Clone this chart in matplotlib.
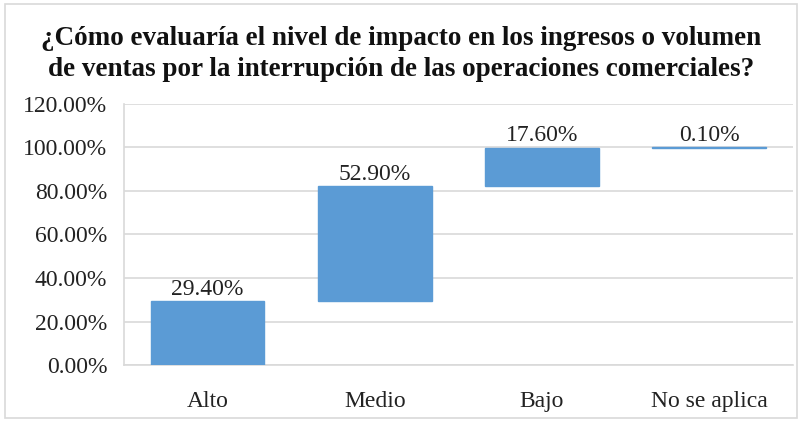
import matplotlib.pyplot as plt
from matplotlib.patches import Rectangle
from matplotlib.ticker import FuncFormatter

# datos del gráfico (cascada)
categorias = ["Alto", "Medio", "Bajo", "No se aplica"]
valores = [29.40, 52.90, 17.60, 0.10]
titulo = ("¿Cómo evaluaría el nivel de impacto en los ingresos o volumen\n"
          "de ventas por la interrupción de las operaciones comerciales?")

plt.rcParams["font.family"] = ["Liberation Serif", "DejaVu Serif"]

fig = plt.figure(figsize=(8.02, 4.21), dpi=100)
ax = fig.add_axes([0.1546, 0.133, 0.834, 0.62])

# base de cada barra = suma acumulada de las anteriores
bases = []
acumulado = 0
for v in valores:
    bases.append(acumulado)
    acumulado += v

x = range(len(categorias))
# el borde del mismo color hace visible la barra de 0.10%
ax.bar(x, valores, bottom=bases, width=0.68, color="#5B9BD5",
       edgecolor="#5B9BD5", linewidth=1.0, zorder=3)

for i, (b, v) in enumerate(zip(bases, valores)):
    ax.text(i, b + v + 0.6, f"{v:.2f}%", ha="center", va="bottom",
            fontsize=17, color="#222222", zorder=4)

ax.set_ylim(0, 120)
ax.set_xlim(-0.5, len(categorias) - 0.5)
ax.set_yticks(range(0, 121, 20))
ax.yaxis.set_major_formatter(FuncFormatter(lambda y, _: f"{y:.2f}%"))
ax.set_xticks(list(x))
ax.set_xticklabels(categorias)
ax.tick_params(axis="both", length=0, labelsize=17, colors="#222222")
ax.tick_params(axis="x", pad=19)
ax.tick_params(axis="y", pad=12)

ax.grid(axis="y", color="#d9d9d9", linewidth=1.2, zorder=0)
for lado in ["top", "right"]:
    ax.spines[lado].set_visible(False)
for lado in ["left", "bottom"]:
    ax.spines[lado].set_color("#d9d9d9")
    ax.spines[lado].set_linewidth(1.2)

fig.text(0.5, 0.871, titulo, ha="center", va="center", fontsize=19.5,
         fontweight="bold", linespacing=1.3, color="#111111")

# borde exterior del gráfico
fig.patches.append(Rectangle((0.006, 0.006), 0.988, 0.985, transform=fig.transFigure,
                             fill=False, edgecolor="#d9d9d9", linewidth=1.2))

plt.savefig("out.png", dpi=100)
plt.close()
